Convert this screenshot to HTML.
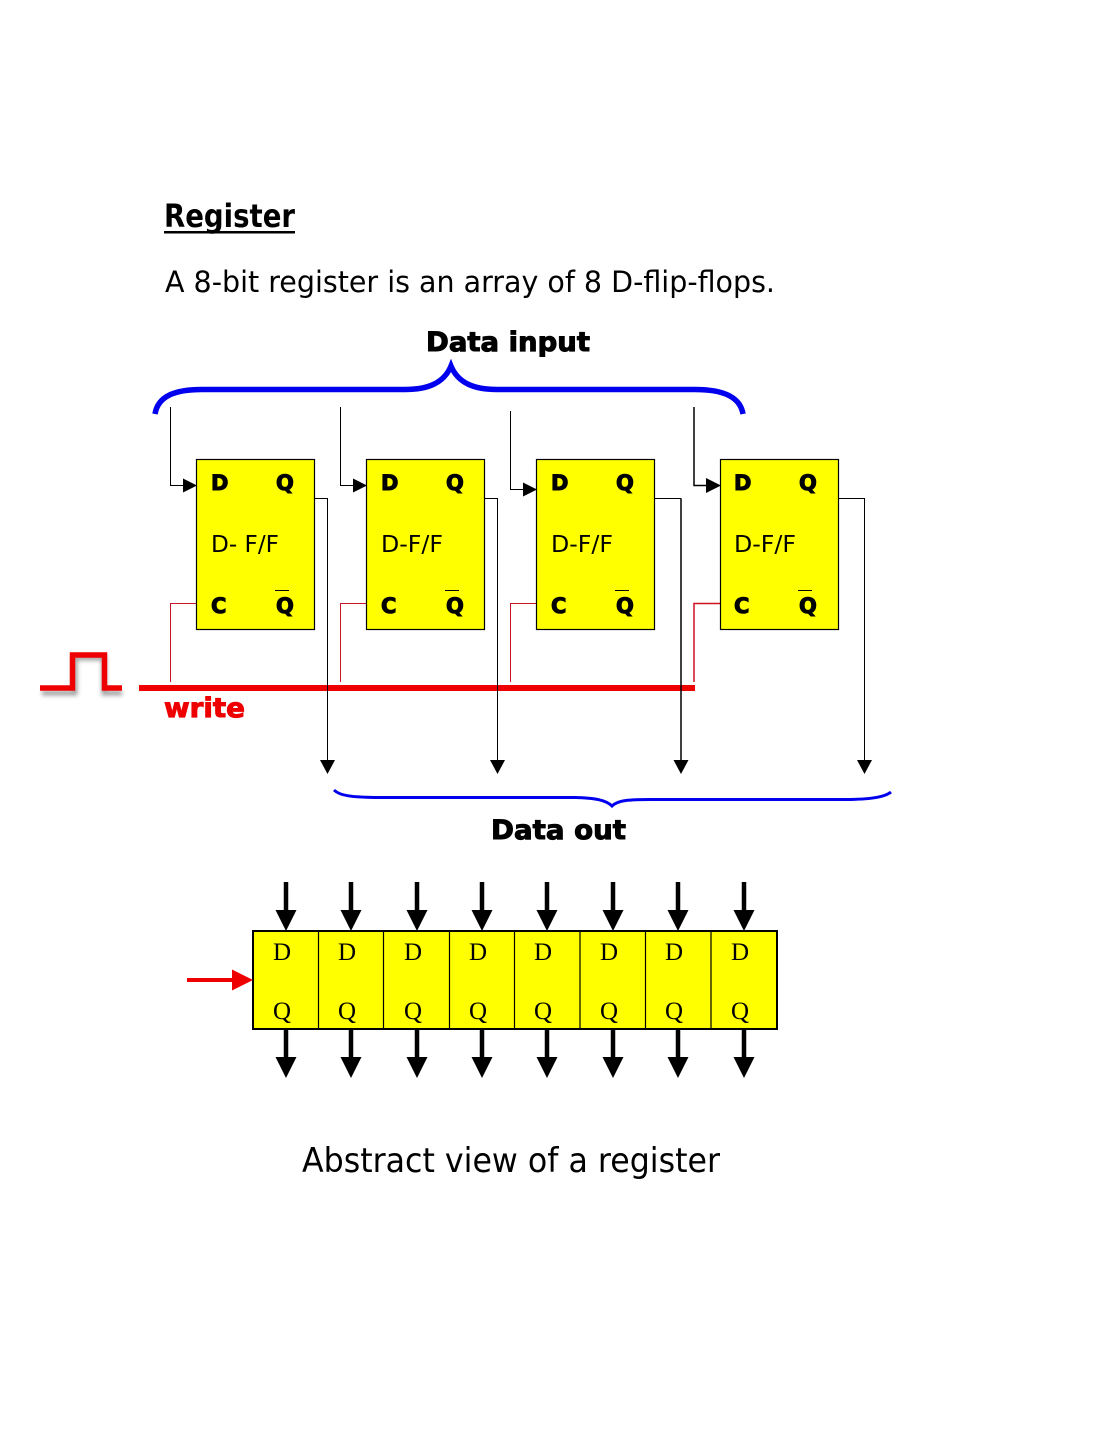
<!DOCTYPE html>
<html><head><meta charset="utf-8"><style>
html,body{margin:0;padding:0;background:#fff}
svg{display:block}
.c{font-family:"DejaVu Sans","Liberation Sans",sans-serif}
.b{font-family:"DejaVu Sans","Liberation Sans",sans-serif;font-weight:bold;stroke:currentColor;stroke-width:1}
.s{font-family:"Liberation Serif",serif;font-size:25px;fill:#000}
</style></head><body>
<svg width="1113" height="1440" viewBox="0 0 1113 1440" xmlns="http://www.w3.org/2000/svg">
<defs>
<filter id="sh" x="-20%" y="-30%" width="140%" height="170%"><feGaussianBlur stdDeviation="2"/></filter>
<g id="top"><path d="M286 882V912" stroke="#000" stroke-width="4.5" fill="none"/><path d="M275.500 910H296.500L286 931Z" fill="#000"/></g>
<g id="bot"><path d="M286 1029V1059" stroke="#000" stroke-width="4.5" fill="none"/><path d="M275.500 1057H296.500L286 1078Z" fill="#000"/></g>
</defs>

<text class="c" x="164" y="227" font-size="32" font-weight="bold" textLength="131" lengthAdjust="spacingAndGlyphs" fill="#000">Register</text>
<rect x="164" y="231" width="131" height="2.500" fill="#000"/>
<text class="c" x="165" y="292" font-size="29" textLength="610" lengthAdjust="spacingAndGlyphs" fill="#000">A 8-bit register is an array of 8 D-flip-flops.</text>
<text class="b" x="426" y="351" font-size="27" textLength="164" lengthAdjust="spacingAndGlyphs" fill="#000" color="#000">Data input</text>

<path d="M155 414C158 396 175 389.500 202 389.500H405C428 389.500 444 383 451 366C458 383 474 389.500 497 389.500H695C722 389.500 740 396 743 414" fill="none" stroke="#0000ee" stroke-width="5.500"/>

<!-- input wires -->
<g fill="none" stroke="#000" stroke-width="1">
<path d="M170.500 407V485.500H185"/>
<path d="M340.500 407V485.500H355"/>
<path d="M510.500 411V489.500H525"/>
</g>
<path d="M694 407V485.500H708" fill="none" stroke="#000" stroke-width="1.500"/>
<g fill="#000">
<path d="M183 478.500L197 485.500L183 492.500Z"/>
<path d="M353 478.500L367 485.500L353 492.500Z"/>
<path d="M523 482.500L537 489.500L523 496.500Z"/>
<path d="M706 478L721 485.500L706 493Z"/>
</g>

<!-- pulse -->
<path d="M42 693H75V658H104V693H122" fill="none" stroke="#888" stroke-width="5" filter="url(#sh)" opacity=".8"/>
<path d="M40 688H72.500V655H104.500V688H122" fill="none" stroke="#ee0000" stroke-width="5.500"/>
<!-- bus -->
<rect x="139" y="685" width="556" height="6" fill="#ee0000"/>
<text class="b" x="164" y="717" font-size="27" textLength="81" lengthAdjust="spacingAndGlyphs" fill="#ee0000" color="#ee0000">write</text>

<!-- clock wires -->
<g fill="none" stroke="#c8142a" stroke-width="1">
<path d="M170.500 682V603.500H197"/>
<path d="M340.500 682V603.500H367"/>
<path d="M510.500 682V603.500H537"/>
<path d="M694 682V603.500H721" stroke-width="1.500" stroke="#d01020"/>
</g>

<!-- flip-flops -->
<g fill="#ffff00" stroke="#000" stroke-width="1.200">
<rect x="196.500" y="459.500" width="118" height="170"/>
<rect x="366.500" y="459.500" width="118" height="170"/>
<rect x="536.500" y="459.500" width="118" height="170"/>
<rect x="720.500" y="459.500" width="118" height="170"/>
</g>

<!-- outputs -->
<g fill="none" stroke="#000" stroke-width="1">
<path d="M315 498.500H327.500V762"/>
<path d="M485 498.500H497.500V762"/>
<path d="M655 498.500H681V762" />
<path d="M839 498.500H864.500V762"/>
</g>
<path d="M681 499V762" stroke="#000" stroke-width="1.500"/>
<g fill="#000">
<path d="M320 760H335L327.500 774Z"/>
<path d="M490 760H505L497.500 774Z"/>
<path d="M673.500 760H688.500L681 774Z"/>
<path d="M857 760H872L864.500 774Z"/>
</g>

<!-- FF labels -->
<g class="b" font-size="21" fill="#000" color="#000">
<text x="211" y="490">D</text><text x="276" y="490">Q</text><text x="211" y="613">C</text><text x="276" y="613">Q</text>
<text x="381" y="490">D</text><text x="446" y="490">Q</text><text x="381" y="613">C</text><text x="446" y="613">Q</text>
<text x="551" y="490">D</text><text x="616" y="490">Q</text><text x="551" y="613">C</text><text x="616" y="613">Q</text>
<text x="734" y="490">D</text><text x="799" y="490">Q</text><text x="734" y="613">C</text><text x="799" y="613">Q</text>
</g>
<g stroke="#000" stroke-width="1">
<path d="M275 590.500H289M445 590.500H459M615 590.500H629M798 590.500H812"/>
</g>
<g class="c" font-size="23" fill="#000">
<text x="211" y="552" textLength="68" lengthAdjust="spacingAndGlyphs">D- F/F</text>
<text x="381" y="552" textLength="62" lengthAdjust="spacingAndGlyphs">D-F/F</text>
<text x="551" y="552" textLength="62" lengthAdjust="spacingAndGlyphs">D-F/F</text>
<text x="734" y="552" textLength="62" lengthAdjust="spacingAndGlyphs">D-F/F</text>
</g>

<!-- bottom brace -->
<path d="M334 790C340 796 352 797 375 797.500H575C595 798 606 800 612 806C618 800 630 799.500 650 799.500H850C872 799 885 797 891 792" fill="none" stroke="#0000ee" stroke-width="3"/>
<text class="b" x="491" y="839" font-size="27" textLength="135" lengthAdjust="spacingAndGlyphs" fill="#000" color="#000">Data out</text>

<!-- abstract register -->
<rect x="253" y="931" width="524" height="98" fill="#ffff00" stroke="#000" stroke-width="2"/>
<path d="M318.500 931V1029M383.500 931V1029M449.500 931V1029M514.500 931V1029M580 931V1029M645.500 931V1029M711 931V1029" stroke="#000" stroke-width="1.200"/>
<use href="#top"/><use href="#top" x="65"/><use href="#top" x="131"/><use href="#top" x="196"/><use href="#top" x="261"/><use href="#top" x="327"/><use href="#top" x="392"/><use href="#top" x="458"/>
<use href="#bot"/><use href="#bot" x="65"/><use href="#bot" x="131"/><use href="#bot" x="196"/><use href="#bot" x="261"/><use href="#bot" x="327"/><use href="#bot" x="392"/><use href="#bot" x="458"/>
<path d="M187 978H234V982H187Z" fill="#ee0000"/><path d="M232 969.500L253 980L232 990.500Z" fill="#ee0000"/>
<g class="s">
<text x="273" y="960">D</text><text x="338" y="960">D</text><text x="404" y="960">D</text><text x="469" y="960">D</text><text x="534" y="960">D</text><text x="600" y="960">D</text><text x="665" y="960">D</text><text x="731" y="960">D</text>
<text x="273" y="1019">Q</text><text x="338" y="1019">Q</text><text x="404" y="1019">Q</text><text x="469" y="1019">Q</text><text x="534" y="1019">Q</text><text x="600" y="1019">Q</text><text x="665" y="1019">Q</text><text x="731" y="1019">Q</text>
</g>
<text class="c" x="302" y="1172" font-size="34" textLength="418" lengthAdjust="spacingAndGlyphs" fill="#000">Abstract view of a register</text>
</svg>
</body></html>
